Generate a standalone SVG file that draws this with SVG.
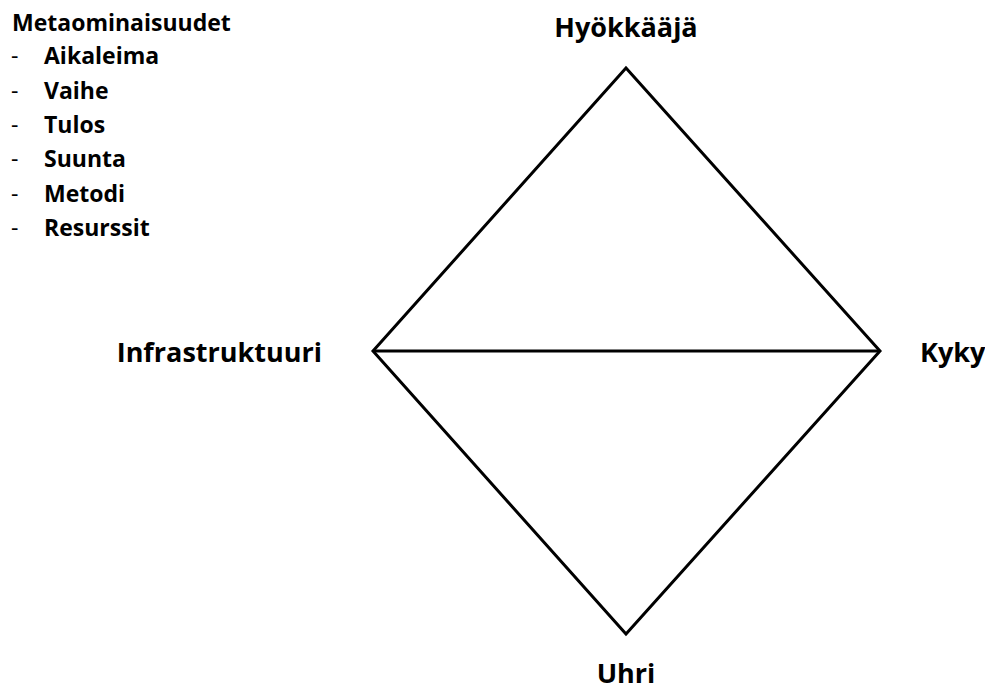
<svg xmlns="http://www.w3.org/2000/svg" width="985" height="691" viewBox="0 0 985 691">
  <style>
    .lbl { font-family: "Open Sans", "Noto Sans", "Liberation Sans", sans-serif; font-weight: bold; font-size: 23px; fill: #000; }
    .dash { font-weight: normal; }
    .big { font-size: 27px; }
    .edge { stroke: #000; stroke-width: 3; fill: none; stroke-linejoin: miter; }
  </style>
  <rect width="985" height="691" fill="#fff"/>

  <g id="meta">
    <text class="lbl" x="12" y="31">Metaominaisuudet</text>
    <text class="lbl dash" x="11" y="64">-</text><text class="lbl" x="44" y="64">Aikaleima</text>
    <text class="lbl dash" x="11" y="99">-</text><text class="lbl" x="44" y="99">Vaihe</text>
    <text class="lbl dash" x="11" y="133">-</text><text class="lbl" x="44" y="133">Tulos</text>
    <text class="lbl dash" x="11" y="167">-</text><text class="lbl" x="44" y="167">Suunta</text>
    <text class="lbl dash" x="11" y="202">-</text><text class="lbl" x="44" y="202">Metodi</text>
    <text class="lbl dash" x="11" y="236">-</text><text class="lbl" x="44" y="236">Resurssit</text>
  </g>

  <g id="connectors">
    <polygon class="edge" points="626,68 880,351 626,634 373,351"/>
    <line class="edge" x1="373" y1="351" x2="880" y2="351"/>
  </g>

  <g id="hyokkaaja"><text class="lbl big" x="626" y="37" text-anchor="middle">Hyökkääjä</text></g>
  <g id="infrastruktuuri"><text class="lbl big" x="322" y="362" text-anchor="end">Infrastruktuuri</text></g>
  <g id="kyky"><text class="lbl big" x="920" y="362">Kyky</text></g>
  <g id="uhri"><text class="lbl big" x="626" y="683" text-anchor="middle">Uhri</text></g>
</svg>
